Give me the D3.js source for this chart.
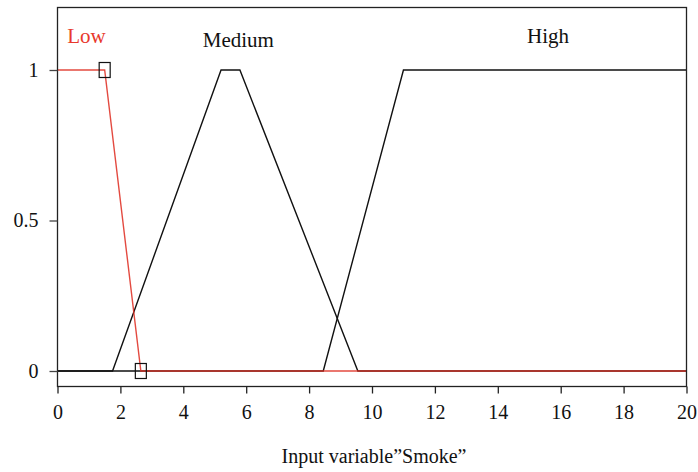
<!DOCTYPE html>
<html><head><meta charset="utf-8">
<script src="https://cdn.jsdelivr.net/npm/d3@7"></script>
<style>body{margin:0;background:#fff}svg{display:block}text{font-family:"Liberation Serif","DejaVu Serif",serif}</style>
</head><body><svg id="c" width="698" height="472"></svg>
<script>
const xTicks = [0,2,4,6,8,10,12,14,16,18,20];
const yTicks = [0,0.5,1];
const yTickLabels = ["0","0.5","1"];
const lowX = [0,1.5,2.65,20];
const lowY = [1,1,0,0];
const mediumX = [0,1.75,5.2,5.8,9.55,20];
const mediumY = [0,0,1,1,0,0];
const highX = [0,8.45,11,20];
const highY = [0,0,1,1];
const markerX = [1.5,2.65];
const markerY = [1,0];
const setNames = ["Low","Medium","High"];
const labelX = [0.92,5.75,15.6];
const labelY = [1.09,1.076,1.09];
const xLabel = "Input variable\u201dSmoke\u201d";

const svg = d3.select("#c");
const L=57.5, R=686.5, T=7.5, B=386.5;
const x = d3.scaleLinear().domain([0,20]).range([L,R]);
const y = d3.scaleLinear().domain([0,1]).range([371,70]);

const line = d3.line().x(d=>x(d[0])).y(d=>y(d[1]));
const pts = (xs,ys)=>xs.map((v,i)=>[v,ys[i]]);

svg.append("path").datum(pts(mediumX,mediumY)).attr("d",line).attr("fill","none").attr("stroke","#111").attr("stroke-width",1.4);
svg.append("path").datum(pts(highX,highY)).attr("d",line).attr("fill","none").attr("stroke","#111").attr("stroke-width",1.4);
svg.append("path").datum(pts(lowX,lowY)).attr("d",line).attr("fill","none").attr("stroke","#de2a1e").attr("stroke-opacity",0.85).attr("stroke-width",1.4);

svg.selectAll("rect.m").data(pts(markerX,markerY)).join("rect").attr("class","m")
  .attr("x",d=>x(d[0])-5.5).attr("y",d=>y(d[1])-7.5).attr("width",11).attr("height",15)
  .attr("fill","none").attr("stroke","#111").attr("stroke-width",1.2);

// frame
svg.append("rect").attr("x",L).attr("y",T).attr("width",R-L).attr("height",B-T).attr("fill","none").attr("stroke","#222").attr("stroke-width",1.3);

const xa = svg.append("g").attr("transform",`translate(0,${B})`)
  .call(d3.axisBottom(x).tickValues(xTicks).tickSize(7).tickFormat(d3.format("d")));
xa.select(".domain").remove();
xa.selectAll("line").attr("stroke","#222").attr("stroke-width",1.3);
xa.selectAll("text").attr("font-size",20).attr("fill","#111").attr("font-family","Liberation Serif").attr("dy",0).attr("y",32);

const ya = svg.append("g").attr("transform",`translate(${L},0)`)
  .call(d3.axisLeft(y).tickValues(yTicks).tickSize(8).tickFormat((d,i)=>yTickLabels[i]));
ya.select(".domain").remove();
ya.selectAll("line").attr("stroke","#444").attr("stroke-width",1.3);
ya.selectAll("text").attr("font-size",20).attr("fill","#111").attr("font-family","Liberation Serif").attr("x",-19).attr("dy","0.3em");

svg.selectAll("text.lab").data(setNames).join("text").attr("class","lab")
  .attr("x",(d,i)=>x(labelX[i])).attr("y",(d,i)=>y(labelY[i]))
  .attr("text-anchor","middle").attr("font-size",21)
  .attr("fill",(d,i)=>i===0?"#e8392c":"#111").text(d=>d);

svg.append("text").attr("x",374).attr("y",463).attr("text-anchor","middle").attr("font-size",20).attr("fill","#111").text(xLabel);
</script></body></html>
